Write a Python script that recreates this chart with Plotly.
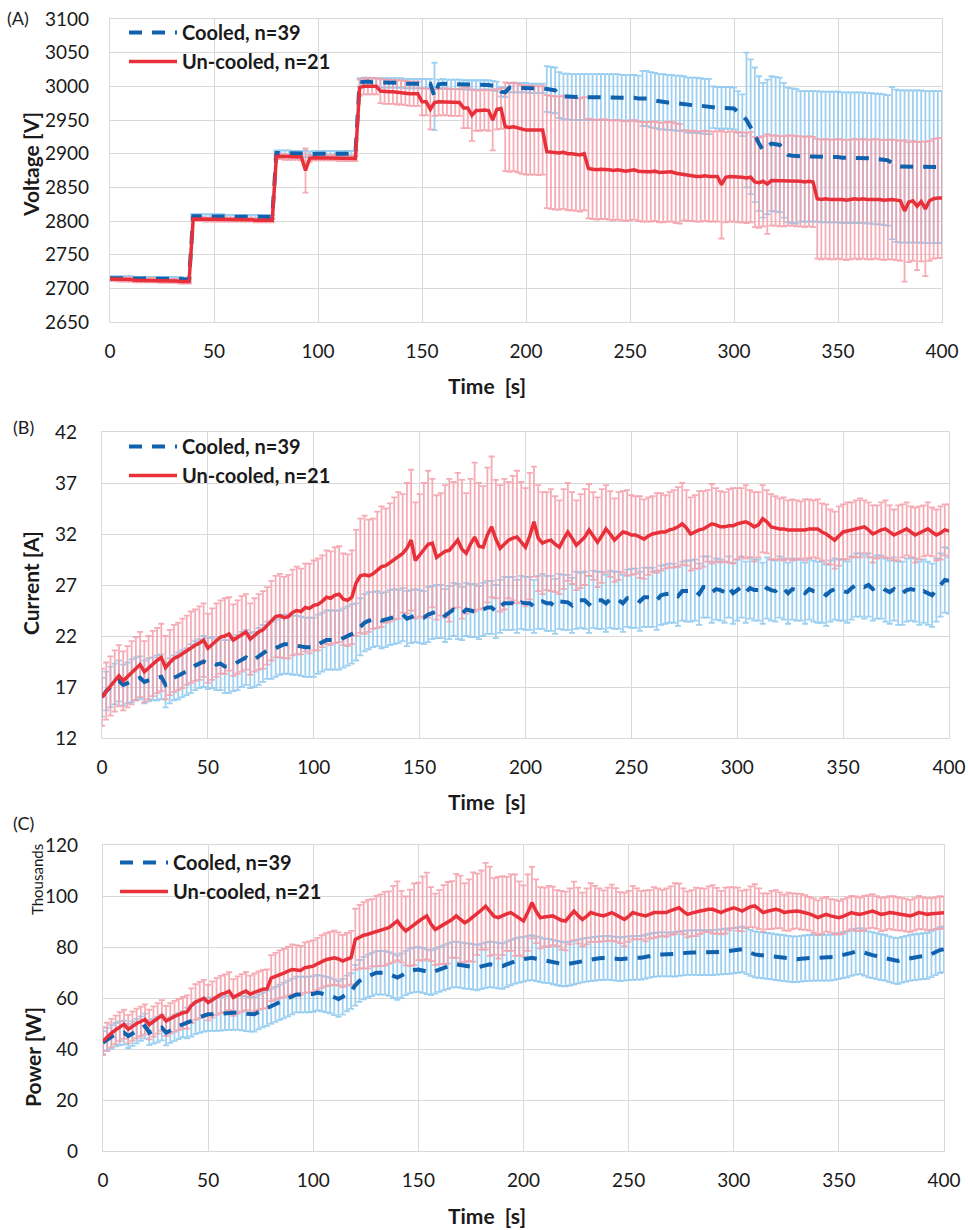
import plotly.graph_objects as go

# ---------------- DATA (time step 2 s) ----------------
time_s = list(range(0, 401, 2))

# Panel A: voltage [V]
volt_uncooled = [
 2714,2714,2713,2713,2713,2713,2712,2712,2712,2712,
 2712,2712,2711,2711,2711,2711,2711,2710,2710,2710,
 2803,2803,2803,2802,2802,2802,2802,2802,2802,2802,
 2802,2802,2802,2802,2802,2801,2801,2801,2801,2801,
 2896,2896,2895,2895,2895,2895,2895,2875,2893,2894,
 2894,2894,2894,2894,2894,2893,2893,2893,2893,2893,
 2998,3000,3000,3000,3000,2993,2992,2992,2992,2991,
 2991,2990,2989,2989,2989,2977,2977,2966,2976,2977,
 2977,2977,2976,2976,2976,2968,2968,2957,2964,2964,
 2965,2964,2950,2966,2967,2940,2939,2940,2938,2936,
 2935,2935,2935,2934,2935,2903,2902,2901,2901,2902,
 2900,2900,2899,2898,2900,2878,2877,2876,2877,2877,
 2876,2875,2876,2875,2874,2875,2876,2874,2873,2873,
 2873,2874,2872,2872,2873,2873,2871,2870,2868,2867,
 2867,2866,2866,2867,2866,2866,2866,2854,2865,2866,
 2866,2865,2865,2864,2865,2858,2857,2859,2855,2860,
 2860,2859,2859,2860,2860,2859,2859,2858,2859,2858,
 2833,2832,2833,2832,2832,2833,2832,2831,2832,2833,
 2832,2833,2832,2832,2833,2832,2831,2832,2832,2831,
 2830,2815,2828,2830,2822,2829,2818,2830,2833,2834,
 2834]
volt_uncooled_sd = [
 3,3,3,3,3,3,3,3,3,3,
 3,3,3,3,3,3,3,3,3,3,
 3,3,3,3,3,3,3,3,3,3,
 3,3,3,3,3,3,3,3,3,3,
 4,4,4,4,4,4,5,33,5,4,
 4,4,4,4,4,4,4,4,4,4,
 12,12,12,12,12,18,18,18,18,18,
 18,18,18,18,18,20,20,30,20,20,
 20,20,20,20,20,30,30,38,30,30,
 30,30,45,30,30,66,66,66,66,66,
 66,66,66,66,66,84,84,84,84,84,
 84,84,84,84,84,74,74,74,74,74,
 74,74,74,74,74,74,74,74,74,74,
 74,74,74,74,74,74,74,74,67,67,
 67,67,67,67,67,67,67,80,67,67,
 67,67,67,67,67,67,67,67,74,67,
 67,67,67,67,67,67,67,67,67,67,
 89,89,89,89,89,89,89,89,89,89,
 89,89,89,89,89,89,89,89,89,89,
 89,105,89,89,95,89,100,89,89,89,
 89]
volt_cooled = [
 2715,2715,2715,2715,2715,2715,2714,2714,2714,2714,
 2714,2714,2714,2714,2714,2714,2714,2714,2713,2713,
 2807,2807,2807,2807,2807,2807,2807,2807,2806,2806,
 2806,2806,2806,2806,2806,2806,2806,2806,2806,2806,
 2901,2901,2901,2901,2900,2900,2900,2900,2899,2900,
 2900,2900,2900,2900,2900,2900,2900,2900,2900,2900,
 3006,3007,3007,3006,3006,3005,3005,3005,3005,3005,
 3005,3004,3004,3004,3004,3004,3004,3004,2985,3003,
 3004,3003,3003,3003,3003,3002,3002,3002,3002,3002,
 3002,3002,3001,3000,2992,2991,2998,2998,2998,2998,
 2998,2997,2997,2997,2997,2996,2995,2994,2987,2985,
 2985,2984,2984,2984,2984,2984,2984,2984,2984,2984,
 2984,2984,2984,2983,2983,2983,2983,2982,2982,2982,
 2980,2979,2977,2977,2976,2976,2975,2975,2974,2972,
 2972,2972,2971,2970,2970,2969,2968,2968,2968,2968,
 2967,2962,2957,2950,2940,2928,2915,2905,2910,2915,
 2914,2913,2905,2898,2897,2896,2896,2896,2896,2896,
 2896,2895,2895,2895,2895,2895,2894,2894,2894,2894,
 2894,2894,2893,2893,2892,2892,2891,2890,2886,2882,
 2881,2881,2881,2881,2881,2881,2880,2880,2880,2880,
 2880]
volt_cooled_sd = [
 3,3,3,3,3,3,3,3,3,3,
 3,3,3,3,3,3,3,3,3,3,
 3,3,3,3,3,3,3,3,3,3,
 3,3,3,3,3,3,3,3,3,3,
 4,4,4,4,4,4,4,5,4,4,
 4,4,4,4,4,4,4,4,4,4,
 6,6,6,6,6,7,7,7,7,7,
 7,7,7,7,7,7,7,7,50,7,
 7,7,7,7,7,7,7,7,7,7,
 7,7,7,7,7,7,7,7,7,7,
 7,7,7,7,7,34,34,34,34,34,
 34,34,34,34,34,34,34,34,34,34,
 34,34,34,34,34,34,34,34,41,41,
 41,41,41,41,41,41,41,41,41,41,
 41,41,41,41,41,31,31,31,31,31,
 31,31,31,100,100,100,100,100,100,100,
 100,100,100,100,100,100,97,97,97,97,
 97,97,97,97,97,97,97,97,97,97,
 97,97,97,97,97,97,97,97,113,113,
 113,113,113,113,113,113,113,113,113,113,
 113]

# Panel B: current [A]
curr_uncooled = [
 16.0,16.6,17.1,17.6,18.1,17.6,18.0,18.4,18.8,19.2,
 18.5,18.9,19.3,19.6,19.9,18.9,19.4,19.8,20.0,20.3,
 20.6,20.9,21.1,21.3,21.6,20.8,21.2,21.6,21.9,22.0,
 22.2,21.6,21.9,22.2,22.4,21.7,22.1,22.4,22.6,23.0,
 23.5,23.9,24.0,23.8,23.9,24.3,24.5,24.4,24.8,24.7,
 25.0,25.1,25.4,25.8,25.7,26.0,26.1,25.6,25.5,25.8,
 27.2,27.9,28.0,27.9,28.1,28.5,28.8,28.9,29.2,29.6,
 29.9,30.1,30.6,31.4,29.4,29.9,30.4,31.0,31.1,29.7,
 30.0,30.3,30.4,30.9,31.4,30.5,30.1,31.0,31.7,30.8,
 30.7,31.9,32.7,31.5,30.6,31.0,31.4,31.6,31.7,31.2,
 30.7,31.8,33.2,31.6,31.1,31.3,31.4,31.0,30.7,31.5,
 32.2,31.6,30.9,31.3,31.7,32.4,31.8,31.2,31.8,32.5,
 32.0,31.4,31.8,32.2,32.1,31.9,31.9,31.7,31.5,31.8,
 32.0,32.1,32.2,32.2,32.4,32.5,32.7,33.0,32.6,32.0,
 32.2,32.4,32.5,32.8,33.0,32.9,32.7,32.7,32.8,32.8,
 33.0,33.1,33.2,33.0,32.7,32.9,33.5,33.2,32.7,32.6,
 32.5,32.5,32.4,32.4,32.4,32.4,32.4,32.5,32.5,32.5,
 32.2,32.0,31.7,31.4,31.8,32.2,32.3,32.4,32.5,32.6,
 32.7,32.4,32.0,32.2,32.4,32.5,32.2,31.9,32.1,32.3,
 32.5,32.2,31.9,32.1,32.3,32.5,32.2,31.9,32.1,32.4,
 32.3]
curr_uncooled_sd = [
 2.8,2.8,2.9,3.0,3.0,2.9,3.0,3.1,3.1,3.2,
 3.0,3.1,3.2,3.2,3.3,3.1,3.2,3.3,3.3,3.4,
 3.4,3.5,3.5,3.6,3.6,3.4,3.5,3.6,3.6,3.7,
 3.6,3.5,3.6,3.7,3.7,3.5,3.6,3.7,3.8,3.8,
 3.9,4.0,4.1,4.0,4.1,4.2,4.3,4.2,4.3,4.4,
 4.4,4.5,4.5,4.6,4.6,4.7,4.7,4.5,4.5,4.6,
 5.2,5.6,5.8,5.5,5.4,5.7,5.9,5.6,5.8,6.0,
 6.2,5.8,6.4,6.9,5.7,6.0,6.6,7.2,6.3,6.1,
 6.0,6.5,7.0,6.2,6.6,6.8,5.9,6.4,7.3,6.2,
 6.0,6.6,6.9,5.8,6.2,6.4,5.7,6.1,6.5,5.9,
 5.8,6.2,5.4,5.2,5.0,4.8,5.0,4.7,4.6,4.9,
 4.8,4.5,4.4,4.6,4.7,4.5,4.3,4.4,4.6,4.3,
 4.2,4.1,4.3,4.0,4.2,3.9,3.8,4.0,3.9,3.8,
 3.7,3.9,3.8,3.6,3.7,3.8,3.9,4.0,3.7,3.6,
 3.6,3.8,3.7,3.5,3.9,3.6,3.5,3.4,3.6,3.7,
 3.5,3.4,3.6,3.3,3.4,3.2,3.3,3.1,3.2,3.1,
 3.0,3.1,2.9,3.0,2.9,2.8,3.0,2.9,2.8,2.9,
 2.8,2.9,2.7,2.8,2.9,2.7,2.8,2.7,2.8,2.9,
 2.6,2.7,2.8,2.6,2.7,2.8,2.6,2.5,2.7,2.6,
 2.6,2.5,2.7,2.6,2.5,2.6,2.4,2.5,2.6,2.5,
 2.6]
curr_cooled = [
 16.0,16.6,17.0,17.3,17.6,17.2,17.4,17.6,17.8,17.9,
 17.5,17.7,17.8,17.9,18.0,17.2,17.6,17.9,18.1,18.3,
 18.5,18.8,19.1,19.3,19.5,19.3,19.4,19.2,19.3,19.0,
 19.0,19.2,19.4,19.7,19.9,19.6,19.7,20.0,20.3,20.6,
 20.6,20.8,21.0,21.2,21.2,21.1,21.1,21.0,20.9,20.9,
 20.9,21.2,21.4,21.6,21.6,21.6,21.6,21.8,22.0,22.2,
 22.4,22.9,23.3,23.5,23.6,23.7,23.5,23.6,23.8,23.9,
 23.9,24.1,23.7,23.9,24.0,23.9,23.8,24.1,24.3,24.4,
 24.4,24.0,24.3,24.6,24.4,24.2,24.6,24.5,24.5,24.3,
 24.6,24.8,24.8,24.4,24.9,25.2,25.2,25.2,24.9,25.3,
 25.2,25.2,24.9,25.3,25.4,25.2,25.2,24.9,25.4,25.3,
 25.3,25.0,25.5,25.5,25.5,25.1,25.6,25.5,25.5,25.2,
 25.6,25.5,25.5,25.2,25.7,25.7,25.7,25.4,25.8,25.8,
 25.8,25.5,26.0,26.1,26.2,26.2,25.9,26.4,26.4,26.4,
 26.5,26.1,26.8,26.8,26.3,26.6,26.5,26.3,26.8,26.2,
 26.5,26.8,26.3,26.7,26.5,26.5,26.2,26.7,26.5,26.4,
 26.8,26.6,26.2,26.6,26.5,26.5,26.2,26.6,26.4,26.3,
 26.3,26.0,26.4,26.6,26.5,26.5,26.3,26.7,27.0,27.0,
 26.8,27.0,26.6,26.8,26.8,26.5,26.3,26.6,26.2,26.2,
 26.5,26.6,26.5,26.2,26.4,26.2,26.0,26.5,27.0,27.5,
 27.4]
curr_cooled_sd = [
 1.9,1.9,2.0,2.0,2.0,2.0,2.0,2.1,2.1,2.1,
 2.1,2.1,2.1,2.2,2.2,2.2,2.2,2.2,2.3,2.3,
 2.3,2.4,2.4,2.4,2.5,2.5,2.5,2.5,2.6,2.6,
 2.6,2.6,2.7,2.7,2.7,2.7,2.7,2.8,2.8,2.8,
 2.8,2.8,2.8,2.9,2.9,2.9,2.9,2.9,2.9,2.9,
 2.9,2.9,2.9,2.9,2.9,2.9,2.9,2.9,2.9,2.9,
 2.8,2.8,2.8,2.8,2.7,2.7,2.7,2.7,2.7,2.7,
 2.6,2.6,2.7,2.6,2.6,2.6,2.6,2.7,2.6,2.6,
 2.6,2.6,2.6,2.6,2.7,2.6,2.6,2.6,2.6,2.6,
 2.6,2.6,2.6,2.6,2.6,2.6,2.6,2.6,2.6,2.6,
 2.6,2.6,2.6,2.6,2.7,2.7,2.7,2.7,2.7,2.7,
 2.7,2.7,2.8,2.7,2.8,2.8,2.8,2.8,2.8,2.8,
 2.8,2.8,2.8,2.8,2.8,2.9,2.9,2.9,2.9,2.9,
 2.9,2.9,2.9,2.9,2.9,2.9,2.9,2.9,3.0,3.0,
 3.0,3.0,3.0,3.0,3.0,3.0,3.0,3.0,3.0,3.0,
 3.0,3.0,3.0,3.0,3.0,3.0,3.0,3.0,3.0,3.0,
 3.0,3.0,3.0,3.0,3.0,3.0,3.0,3.0,3.0,3.0,
 3.0,3.0,3.0,3.0,3.0,3.0,3.0,3.1,3.1,3.1,
 3.1,3.1,3.1,3.1,3.1,3.1,3.1,3.1,3.1,3.1,
 3.1,3.1,3.1,3.1,3.1,3.1,3.1,3.1,3.1,3.2,
 3.2]

# Panel C: power [W, thousands]
power_uncooled = [
 43.1,44.8,46.2,47.5,48.8,49.7,47.8,49.0,50.0,50.8,
 51.6,49.6,50.8,52.0,53.2,51.0,52.0,52.8,53.5,54.2,
 54.5,57.0,58.4,59.2,59.9,58.2,59.4,60.6,61.4,61.9,
 62.7,60.2,61.2,62.0,62.7,61.5,62.2,62.9,63.4,63.6,
 67.8,68.5,69.3,69.8,70.5,71.2,71.0,70.8,71.9,72.2,
 72.5,73.4,74.3,75.0,75.4,75.8,75.3,74.5,75.2,75.8,
 83.0,84.0,84.6,85.0,85.6,86.2,86.6,87.1,87.6,89.0,
 90.2,88.0,86.3,87.5,88.9,90.0,91.2,92.2,89.0,86.9,
 87.8,88.8,89.5,90.8,92.2,91.0,89.5,90.5,91.8,92.8,
 94.5,96.0,94.0,92.0,91.5,92.3,93.0,93.5,92.5,91.2,
 90.2,93.5,97.4,94.0,91.5,91.8,92.0,92.2,91.3,90.5,
 90.2,92.0,94.1,92.3,90.8,92.0,93.5,93.0,92.5,92.2,
 92.8,93.5,92.6,91.5,90.8,92.0,93.5,93.0,92.5,92.2,
 92.8,93.5,93.5,93.4,93.5,94.3,95.0,95.4,94.0,92.8,
 93.3,93.8,94.1,94.4,94.8,94.8,94.2,93.5,94.3,95.0,
 95.4,94.8,94.1,95.0,95.8,96.1,95.0,93.5,94.0,94.5,
 94.8,94.4,93.5,93.8,94.0,94.1,93.8,93.5,93.0,92.3,
 91.5,92.2,92.8,92.2,91.8,91.5,92.0,92.8,93.5,93.0,
 92.8,93.2,93.8,94.1,93.5,92.8,93.0,93.5,93.3,93.0,
 92.8,92.5,92.2,92.8,93.5,93.2,92.8,93.0,93.2,93.5,
 93.4]
power_uncooled_sd = [
 5.5,5.5,5.6,5.6,5.7,5.7,5.6,5.7,5.8,5.8,
 5.9,5.8,5.9,6.0,6.0,5.9,6.0,6.1,6.1,6.2,
 6.5,6.8,7.0,7.1,7.2,7.0,7.1,7.2,7.3,7.4,
 7.4,7.2,7.3,7.4,7.5,7.3,7.4,7.5,7.6,7.6,
 9.0,9.2,9.4,9.5,9.6,9.8,9.7,9.6,9.9,10.0,
 10.1,10.2,10.3,10.4,10.5,10.6,10.4,10.2,10.3,10.5,
 12.0,12.5,13.0,13.5,13.2,13.8,14.0,14.5,14.2,15.0,
 15.5,14.0,13.5,15.0,16.0,15.2,16.5,17.0,14.5,14.0,
 14.5,15.5,16.0,15.0,16.5,17.0,15.5,16.0,17.5,16.0,
 15.5,17.0,17.5,15.0,16.0,15.5,14.5,15.0,16.0,14.5,
 14.0,15.0,14.0,12.5,12.0,11.5,12.0,11.5,11.0,11.5,
 11.5,11.0,11.5,11.0,10.5,11.0,11.5,11.0,10.5,10.0,
 10.5,11.0,10.5,10.0,10.5,10.0,10.5,10.0,9.5,10.0,
 9.5,10.0,9.5,9.0,9.5,9.5,10.0,9.5,9.0,9.0,
 9.0,9.5,9.0,8.5,9.0,9.5,9.0,8.5,9.0,8.5,
 8.0,8.5,8.0,7.5,8.0,8.5,8.0,7.5,7.0,7.5,
 7.5,7.0,7.0,7.5,7.0,6.8,7.0,6.8,6.6,6.8,
 6.8,7.0,6.8,6.6,6.8,6.6,6.8,6.6,6.5,6.8,
 6.6,6.8,6.5,6.6,6.4,6.6,6.5,6.4,6.6,6.5,
 6.4,6.5,6.3,6.4,6.5,6.3,6.4,6.2,6.3,6.4,
 6.3]
power_cooled = [
 42.5,43.8,44.8,45.6,46.1,46.4,45.1,46.0,47.0,48.0,
 49.0,46.4,47.0,47.6,48.4,46.4,47.4,48.3,49.0,49.7,
 50.2,51.0,52.0,52.6,53.2,53.6,53.6,53.7,53.8,54.0,
 54.2,54.2,54.3,54.0,53.8,53.6,53.6,54.5,55.3,56.0,
 56.8,57.5,58.3,59.0,59.8,60.6,61.4,61.4,61.4,61.4,
 61.6,62.1,61.8,61.4,61.0,60.3,59.6,60.5,61.8,62.7,
 65.0,66.7,67.8,68.6,69.2,69.9,69.9,69.9,69.4,68.7,
 68.0,68.8,69.8,70.6,71.0,71.2,70.8,70.3,69.9,70.5,
 71.2,71.8,72.4,73.0,73.2,72.9,72.6,72.5,72.2,71.9,
 72.4,72.9,73.2,73.0,72.7,72.5,73.2,73.9,74.5,74.9,
 75.2,75.6,75.8,75.4,75.0,74.6,74.5,74.1,73.7,73.4,
 73.2,73.5,73.9,74.3,74.7,75.0,75.2,75.4,75.6,75.7,
 75.8,75.6,75.4,75.2,75.4,75.6,75.7,75.8,75.8,76.2,
 76.6,76.9,77.1,77.1,77.1,77.1,77.1,77.4,77.6,77.8,
 77.8,77.8,77.8,77.8,77.8,77.8,78.0,78.1,78.3,78.4,
 78.6,78.8,79.1,78.4,77.7,77.1,76.9,76.7,76.5,76.3,
 76.0,75.8,75.6,75.4,75.2,75.2,75.4,75.6,75.7,75.8,
 75.8,75.8,75.8,75.8,76.1,76.5,76.8,77.1,77.7,78.2,
 78.4,77.8,77.1,76.8,76.4,76.0,75.8,75.2,74.7,74.5,
 75.0,75.4,75.8,76.0,76.2,76.4,76.5,77.2,78.0,78.8,
 79.1]
power_cooled_sd = [
 4.5,4.5,4.6,4.6,4.7,4.7,4.7,4.8,4.8,4.8,
 4.9,4.9,4.9,5.0,5.0,5.0,5.0,5.1,5.1,5.1,
 6.0,6.1,6.2,6.3,6.4,6.5,6.5,6.6,6.6,6.6,
 6.7,6.7,6.7,6.7,6.8,6.8,6.8,6.8,6.8,6.9,
 6.9,6.9,6.9,7.0,7.0,7.0,7.0,7.0,7.0,7.0,
 7.0,7.0,7.0,7.0,7.0,7.0,7.0,7.0,7.0,7.0,
 8.0,8.2,8.3,8.4,8.5,8.5,8.6,8.6,8.6,8.7,
 8.7,8.7,8.7,8.8,8.8,8.8,8.8,8.8,8.8,8.8,
 8.8,8.8,8.9,8.9,8.9,8.9,8.9,8.9,8.9,8.9,
 8.9,8.9,8.9,8.9,8.9,8.9,8.9,8.9,8.9,8.9,
 8.8,8.8,8.8,8.8,8.8,8.7,8.7,8.7,8.7,8.7,
 8.6,8.6,8.6,8.6,8.6,8.6,8.6,8.6,8.6,8.6,
 8.6,8.6,8.6,8.6,8.6,8.6,8.6,8.6,8.6,8.6,
 8.6,8.6,8.6,8.6,8.6,8.6,8.7,8.7,8.7,8.7,
 8.7,8.7,8.8,8.8,8.8,8.8,8.8,8.8,8.9,8.9,
 8.9,8.9,9.0,9.0,9.0,9.0,9.0,9.0,9.0,9.0,
 9.0,9.0,9.0,9.0,9.0,9.0,9.0,9.0,9.0,9.0,
 9.0,9.0,9.0,9.0,9.0,9.0,9.0,9.0,9.0,9.0,
 9.0,9.0,9.0,9.0,9.0,9.0,9.0,9.0,9.0,9.0,
 9.0,9.0,9.0,9.0,9.0,9.0,9.0,9.0,9.0,9.0,
 9.0]

labels = ["Cooled, n=39", "Un-cooled, n=21"]
x_ticks = [0, 50, 100, 150, 200, 250, 300, 350, 400]

# ---------------- STYLE ----------------
W, H = 968, 1230
FONT = "Lato"
BLUE_LINE = "#1062AE"
RED_LINE = "#E8303A"
BLUE_ERR = "rgba(140,200,238,0.85)"
RED_ERR = "rgba(244,158,168,0.85)"
GRID = "#D9D9D9"

def fx(px):
    return px / W

def fy(py):
    return 1 - py / H

panels = [
    dict(xa="x", ya="y", lg="legend", L=110, R=942, T=19, B=322, yr=[2650, 3100], t0=2650, dt=50,
         ystand=16, lgx=124, lgy=13,
         c=volt_cooled, csd=volt_cooled_sd, u=volt_uncooled, usd=volt_uncooled_sd),
    dict(xa="x2", ya="y2", lg="legend2", L=102, R=949, T=432, B=738, yr=[12, 42], t0=12, dt=5,
         ystand=20, lgx=124, lgy=427,
         c=curr_cooled, csd=curr_cooled_sd, u=curr_uncooled, usd=curr_uncooled_sd),
    dict(xa="x3", ya="y3", lg="legend3", L=103, R=944, T=845, B=1151, yr=[0, 120], t0=0, dt=20,
         ystand=20, lgx=115, lgy=843,
         c=power_cooled, csd=power_cooled_sd, u=power_uncooled, usd=power_uncooled_sd),
]

fig = go.Figure()
layout = dict(
    width=W, height=H, margin=dict(l=0, r=0, t=0, b=0, autoexpand=False),
    paper_bgcolor="white", plot_bgcolor="white",
    font=dict(family=FONT, size=19, color="#1a1a1a"),
)

for i, p in enumerate(panels):
    n = "" if i == 0 else str(i + 1)
    xa, ya, lg = p["xa"], p["ya"], p["lg"]
    # error bars (standard deviation)
    fig.add_trace(go.Scatter(x=time_s, y=p["c"], mode="markers", xaxis=xa, yaxis=ya,
                             marker=dict(size=1, opacity=0), showlegend=False, hoverinfo="skip",
                             error_y=dict(type="data", array=p["csd"], visible=True,
                                          color=BLUE_ERR, thickness=1.8, width=3)))
    fig.add_trace(go.Scatter(x=time_s, y=p["u"], mode="markers", xaxis=xa, yaxis=ya,
                             marker=dict(size=1, opacity=0), showlegend=False, hoverinfo="skip",
                             error_y=dict(type="data", array=p["usd"], visible=True,
                                          color=RED_ERR, thickness=1.8, width=3)))
    # mean lines
    fig.add_trace(go.Scatter(x=time_s, y=p["c"], mode="lines", xaxis=xa, yaxis=ya, name=labels[0],
                             legend=lg, line=dict(color=BLUE_LINE, width=4, dash="13px,10px")))
    fig.add_trace(go.Scatter(x=time_s, y=p["u"], mode="lines", xaxis=xa, yaxis=ya, name=labels[1],
                             legend=lg, line=dict(color=RED_LINE, width=3.5)))

    layout["xaxis" + n] = dict(
        domain=[fx(p["L"]), fx(p["R"])], anchor=ya, range=[0, 400], tickvals=x_ticks,
        showgrid=True, gridcolor=GRID, gridwidth=1.3, showline=True, linecolor=GRID,
        linewidth=1.3, mirror=True, zeroline=False, ticks="", ticklabelstandoff=12,
        automargin=False, tickfont=dict(family=FONT, size=19, color="#1a1a1a"))
    layout["yaxis" + n] = dict(
        domain=[fy(p["B"]), fy(p["T"])], anchor=xa, range=p["yr"], tick0=p["t0"], dtick=p["dt"],
        showgrid=True, gridcolor=GRID, gridwidth=1.3, showline=True, linecolor=GRID,
        linewidth=1.3, mirror=True, zeroline=False, ticks="", ticklabelstandoff=p["ystand"],
        automargin=False, tickfont=dict(family=FONT, size=19, color="#1a1a1a"))
    layout[lg] = dict(
        x=fx(p["lgx"]), y=fy(p["lgy"]), xanchor="left", yanchor="top",
        bgcolor="rgba(255,255,255,0)", borderwidth=0, itemwidth=48, tracegroupgap=0,
        font=dict(family=FONT, size=20, color="#1a1a1a", weight="bold"))

fig.update_layout(**layout)

ann = []
def add_text(text, x, y, size=19, bold=False, angle=0):
    ann.append(dict(text=text, x=fx(x), y=fy(y), xref="paper", yref="paper",
                    showarrow=False, textangle=angle, xanchor="center", yanchor="middle",
                    font=dict(family=FONT, size=size, color="#1a1a1a",
                              weight="bold" if bold else "normal")))

add_text("(A)", 18, 18, size=18)
add_text("(B)", 23, 427, size=18)
add_text("(C)", 23, 823, size=18)
add_text("Voltage [V]", 30, 165, size=21, bold=True, angle=-90)
add_text("Current [A]", 30, 583, size=21, bold=True, angle=-90)
add_text("Power [W]", 32, 1057, size=21, bold=True, angle=-90)
add_text("Thousands", 37, 880, size=15, angle=-90)
add_text("Time  [s]", 487, 385, size=21, bold=True)
add_text("Time  [s]", 487, 802, size=21, bold=True)
add_text("Time  [s]", 487, 1215, size=21, bold=True)
fig.update_layout(annotations=ann)

# remove the browser's default 8px body margin so the figure fills the window; hide the modebar
fig.write_html("out.html", config={"displayModeBar": False},
               post_script="document.body.style.margin='0px';")
